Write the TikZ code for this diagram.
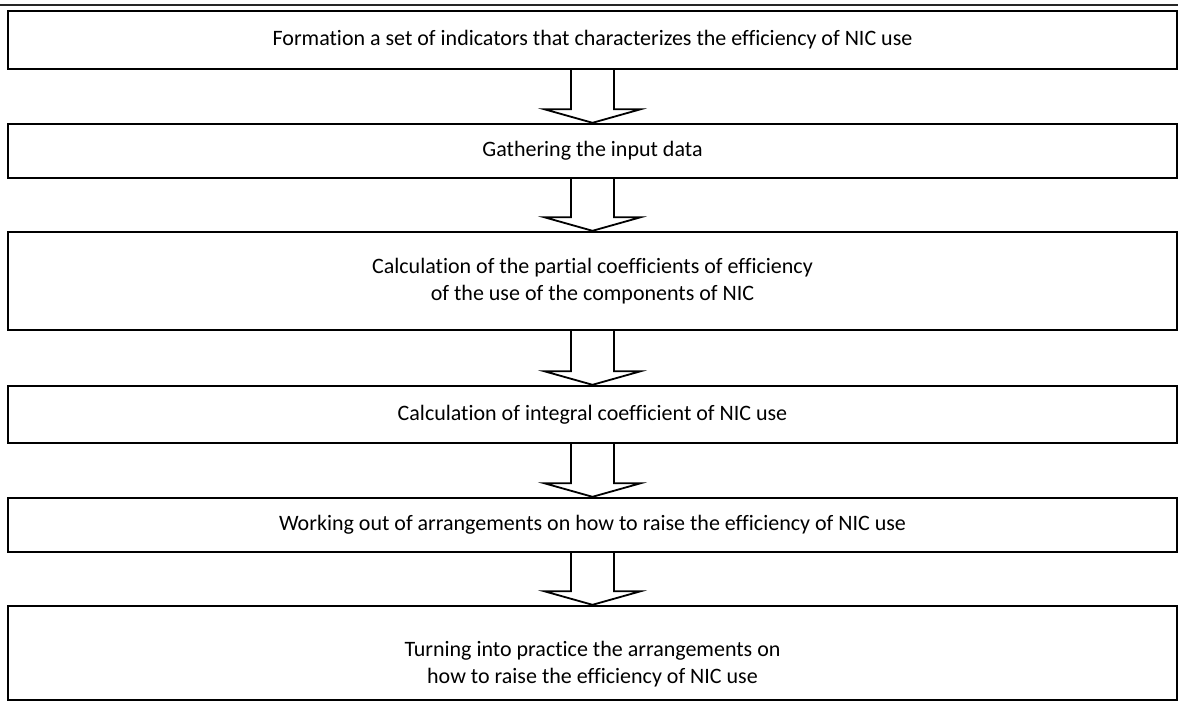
\documentclass[tikz,border=0pt]{standalone}
\usepackage{fontspec}
\setmainfont{Carlito}[Ligatures=NoCommon]
\usetikzlibrary{calc}
\tikzset{
  steptext/.style={align=center, font=\fontsize{22}{27}\selectfont},
  stepbox/.style={draw=black, line width=2.4pt, rectangle, inner sep=0pt,
    minimum width=1169pt, steptext},
  blockarr/.style={draw=black, line width=1.8pt, fill=white, line join=miter},
  topline/.style={draw=black!85, line width=2.2pt}
}
\newcommand\blockarrow[2]{%
  \draw[blockarr] ($(#1.south)+(-21.5pt,0)$) -- ($(#2.north)+(-21.5pt,13.5pt)$)
    -- ($(#2.north)+(-48pt,13.5pt)$) -- (#2.north)
    -- ($(#2.north)+(48pt,13.5pt)$) -- ($(#2.north)+(21.5pt,13.5pt)$)
    -- ($(#1.south)+(21.5pt,0)$);
}
\begin{document}
\begin{tikzpicture}[x=1pt,y=-1pt]
\useasboundingbox (0,0) rectangle (1178,701);
\coordinate (tl) at (0,5);
\coordinate (tr) at (1178,5);
\draw[topline] (tl) -- (tr);
\node[stepbox, minimum height=58pt] (b1) at (592.5,40) {Formation a set of indicators that characterizes the efficiency of NIC use};
\node[stepbox, minimum height=54pt] (b2) at (592.5,151) {Gathering the input data};
\node[stepbox, minimum height=98pt] (b3) at (592.5,281) {Calculation of the partial coefficients of efficiency\\of the use of the components of NIC};
\node[stepbox, minimum height=57pt] (b4) at (592.5,414.5) {Calculation of integral coefficient of NIC use};
\node[stepbox, minimum height=54pt] (b5) at (592.5,525) {Working out of arrangements on how to raise the efficiency of NIC use};
\node[stepbox, minimum height=94pt,
  label={[steptext, yshift=-11pt]center:Turning into practice the arrangements on\\how to raise the efficiency of NIC use}] (b6) at (592.5,653) {};
\blockarrow{b1}{b2}
\blockarrow{b2}{b3}
\blockarrow{b3}{b4}
\blockarrow{b4}{b5}
\blockarrow{b5}{b6}
\end{tikzpicture}
\end{document}
